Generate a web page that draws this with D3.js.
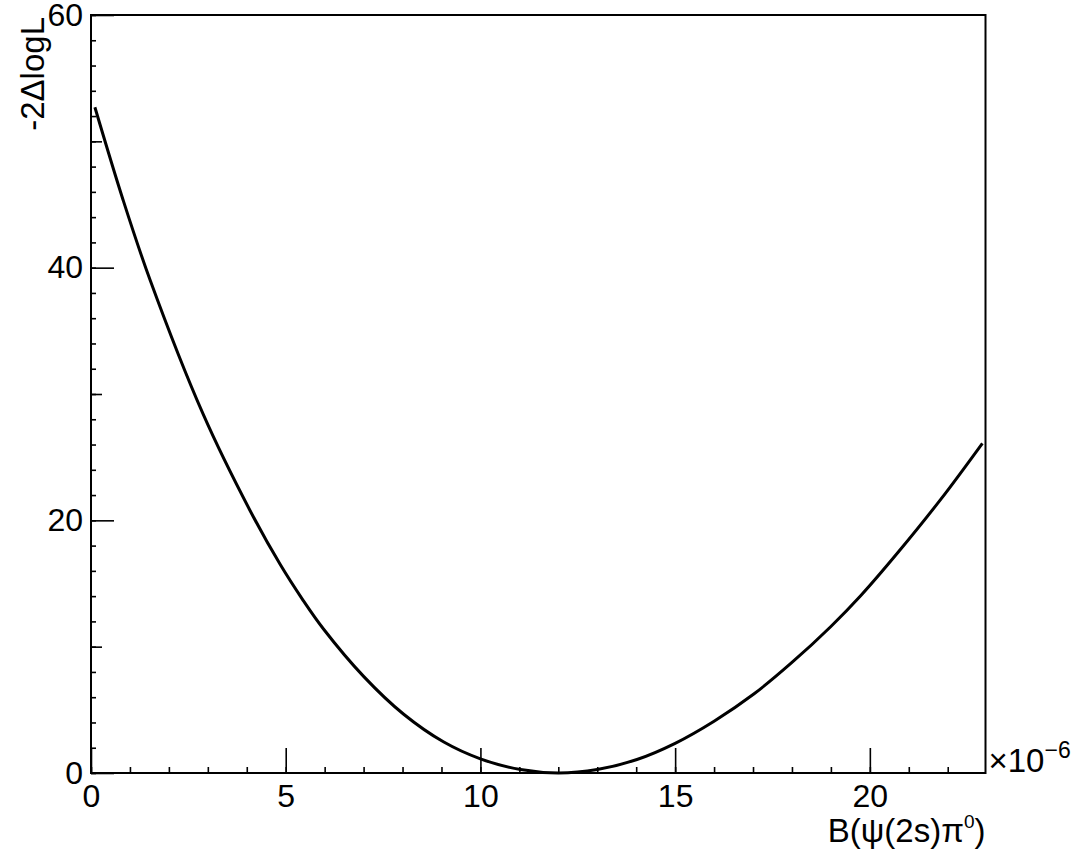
<!DOCTYPE html>
<html>
<head>
<meta charset="utf-8">
<script src="https://cdn.jsdelivr.net/npm/d3@7"></script>
<style>
  body { margin: 0; background: #fff; }
  text { font-family: "Liberation Sans", Arial, Helvetica, sans-serif; fill: #000; }
</style>
</head>
<body>
<div id="chart"></div>
<script>
// values (x in units of 1e-6)
const brValues = [0.1, 0.82, 1.52, 2.88, 4.08, 4.86, 5.43, 5.97, 7.0, 8.03, 9.06, 10.0, 11.03, 12.0,
                  13.0, 14.02, 15.0, 16.0, 17.02, 18.0, 19.0, 19.77, 20.72, 21.83, 22.89];
const nllValues = [52.7, 45.4, 39.0, 28.4, 20.8, 16.5, 13.75, 11.4, 7.65, 4.65, 2.45, 1.12, 0.27, 0,
                   0.27, 1.07, 2.35, 4.1, 6.25, 8.75, 11.6, 14.05, 17.45, 21.7, 26.1];
const xMajorTicks = [0, 5, 10, 15, 20];
const yMajorTicks = [0, 20, 40, 60];
const yMediumTicks = [10, 30, 50];

const W = 1078, H = 859;
const frame = {left: 91, right: 985.5, top: 15, bottom: 773};

const svg = d3.select('#chart')
    .append('svg')
    .attr('width', W)
    .attr('height', H);

svg.append('rect').attr('width', W).attr('height', H).attr('fill', '#fff');

const x = d3.scaleLinear().domain([0, 22.97]).range([frame.left, frame.right]);
const y = d3.scaleLinear().domain([0, 60]).range([frame.bottom, frame.top]);

// x axis: minor ticks every 1, major every 5
svg.append('g')
    .attr('transform', `translate(0,${frame.bottom})`)
    .call(d3.axisBottom(x).tickValues(d3.range(0, 23, 1)).tickSize(-6).tickFormat(''))
    .call(g => g.select('.domain').remove())
    .call(g => g.selectAll('line').attr('stroke', '#000').attr('stroke-width', 1.6));

svg.append('g')
    .attr('transform', `translate(0,${frame.bottom})`)
    .call(d3.axisBottom(x).tickValues(xMajorTicks).tickSize(-25).tickPadding(11).tickFormat(d3.format('d')))
    .call(g => g.select('.domain').remove())
    .call(g => g.selectAll('line').attr('stroke', '#000').attr('stroke-width', 1.6))
    .call(g => g.selectAll('text').style('font-size', '32px').attr('fill', '#000'));

// y axis: minor every 2, medium every 10, major every 20
svg.append('g')
    .attr('transform', `translate(${frame.left},0)`)
    .call(d3.axisLeft(y).tickValues(d3.range(0, 61, 2)).tickSize(-5).tickFormat(''))
    .call(g => g.select('.domain').remove())
    .call(g => g.selectAll('line').attr('stroke', '#000').attr('stroke-width', 1.6));

svg.append('g')
    .attr('transform', `translate(${frame.left},0)`)
    .call(d3.axisLeft(y).tickValues(yMediumTicks).tickSize(-11).tickFormat(''))
    .call(g => g.select('.domain').remove())
    .call(g => g.selectAll('line').attr('stroke', '#000').attr('stroke-width', 1.6));

svg.append('g')
    .attr('transform', `translate(${frame.left},0)`)
    .call(d3.axisLeft(y).tickValues(yMajorTicks).tickSize(-23).tickPadding(8).tickFormat(d3.format('d')))
    .call(g => g.select('.domain').remove())
    .call(g => g.selectAll('line').attr('stroke', '#000').attr('stroke-width', 1.6))
    .call(g => g.selectAll('text').style('font-size', '32px').attr('fill', '#000'));

// frame
svg.append('rect')
    .attr('x', frame.left)
    .attr('y', frame.top)
    .attr('width', frame.right - frame.left)
    .attr('height', frame.bottom - frame.top)
    .attr('fill', 'none')
    .attr('stroke', '#000')
    .attr('stroke-width', 2);

// likelihood curve
const pts = brValues.map((v, i) => ({br: v, nll: nllValues[i]}));
const line = d3.line()
    .x(d => x(d.br))
    .y(d => y(d.nll))
    .curve(d3.curveCatmullRom.alpha(0.5));

svg.append('path')
    .datum(pts)
    .attr('d', line)
    .attr('fill', 'none')
    .attr('stroke', '#000')
    .attr('stroke-width', 3);

// exponent label
const expo = svg.append('text')
    .attr('x', frame.right + 3)
    .attr('y', frame.bottom - 1)
    .style('font-size', '33px');
expo.append('tspan').text('\u00d710');
expo.append('tspan').attr('dy', -14).style('font-size', '23px').text('\u22126');

// x title
const xTitle = svg.append('text')
    .attr('x', frame.right)
    .attr('y', 842)
    .attr('text-anchor', 'end')
    .style('font-size', '33px');
xTitle.append('tspan').text('B(\u03c8(2s)\u03c0');
xTitle.append('tspan').attr('dy', -14).style('font-size', '19px').text('0');
xTitle.append('tspan').attr('dy', 14).text(')');

// y title
svg.append('text')
    .attr('transform', `translate(44,${frame.top + 2}) rotate(-90)`)
    .attr('text-anchor', 'end')
    .style('font-size', '33px')
    .text('-2\u0394logL');
</script>
</body>
</html>
